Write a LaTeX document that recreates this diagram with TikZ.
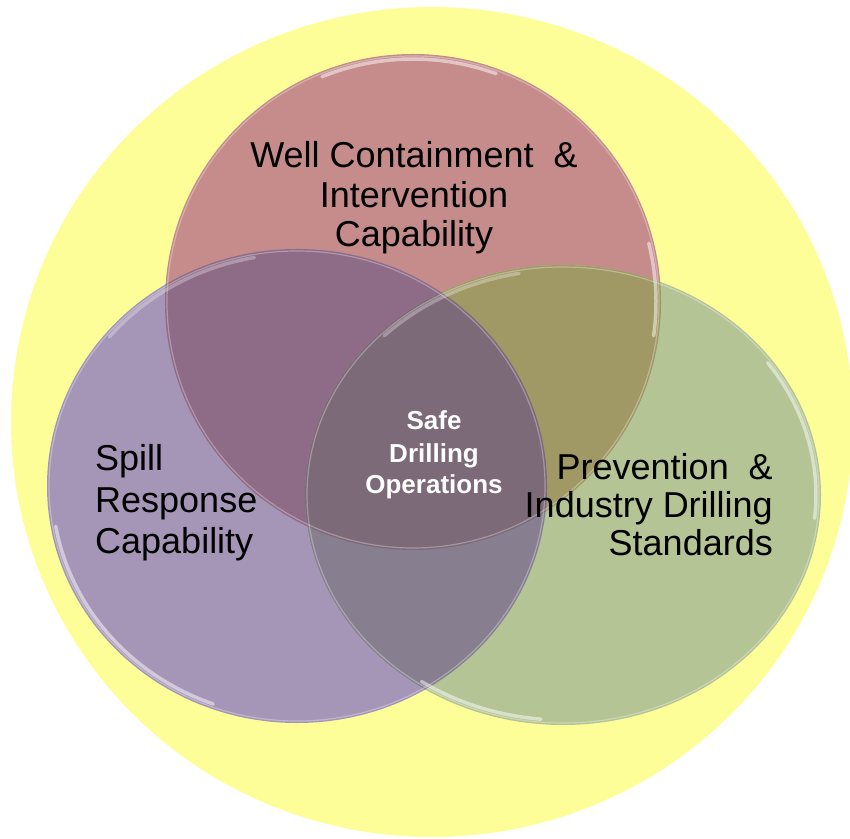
\documentclass[tikz,border=0pt]{standalone}
\usepackage{fontspec}
\setmainfont{Liberation Sans}
\definecolor{cY}{HTML}{FEFE99}
\definecolor{cR}{HTML}{C68C8C}
\definecolor{cP}{HTML}{A596B8}
\definecolor{cG}{HTML}{B5C495}
\definecolor{cRP}{HTML}{8E6B86}
\definecolor{cRG}{HTML}{A09966}
\definecolor{cPG}{HTML}{877F8F}
\definecolor{cRPG}{HTML}{7D6A78}
\begin{document}
\begin{tikzpicture}[x=1pt,y=1pt,
  lbl/.style={font=\fontsize{36}{40}\selectfont, text=black, inner sep=0pt},
  ctr/.style={font=\fontsize{26}{32}\selectfont\bfseries, text=white, inner sep=0pt},
  rim/.style={white, opacity=0.3, line width=1.2pt},
  glint/.style={white, line width=3.5pt, opacity=0.5, line cap=round}]
\useasboundingbox (0,0) rectangle (850,838);
\clip (0,0) rectangle (850,838);
% outer yellow disc
\fill[cY] (432,416) ellipse [x radius=421pt, y radius=415pt];
% three circles
\fill[cR] (413,536) circle [radius=248pt];
\fill[cP] (297,352) ellipse [x radius=250pt, y radius=237pt];
\fill[cG] (563,343) ellipse [x radius=258pt, y radius=230pt];
% overlaps
\begin{scope}
  \clip (413,536) circle [radius=248pt];
  \fill[cRP] (297,352) ellipse [x radius=250pt, y radius=237pt];
\end{scope}
\begin{scope}
  \clip (413,536) circle [radius=248pt];
  \fill[cRG] (563,343) ellipse [x radius=258pt, y radius=230pt];
\end{scope}
\begin{scope}
  \clip (297,352) ellipse [x radius=250pt, y radius=237pt];
  \fill[cPG] (563,343) ellipse [x radius=258pt, y radius=230pt];
\end{scope}
\begin{scope}
  \clip (413,536) circle [radius=248pt];
  \clip (297,352) ellipse [x radius=250pt, y radius=237pt];
  \fill[cRPG] (563,343) ellipse [x radius=258pt, y radius=230pt];
\end{scope}
% rims
\draw[rim] (413,536) circle [radius=246pt];
\draw[rim] (297,352) ellipse [x radius=248pt, y radius=235pt];
\draw[rim] (563,343) ellipse [x radius=256pt, y radius=228pt];
% glossy highlights
\draw[glint] ([shift={(70:243pt)}]413,536) arc [start angle=70, end angle=112, radius=243pt];
\draw[glint] ([shift={(-8:243pt)}]413,536) arc [start angle=-8, end angle=14, radius=243pt];
\draw[glint] ([shift={(190:245pt and 232pt)}]297,352) arc [start angle=190, end angle=250, x radius=245pt, y radius=232pt];
\draw[glint, opacity=0.3] ([shift={(100:245pt and 232pt)}]297,352) arc [start angle=100, end angle=140, x radius=245pt, y radius=232pt];
\draw[glint] ([shift={(-6:253pt and 225pt)}]563,343) arc [start angle=-6, end angle=36, x radius=253pt, y radius=225pt];
\draw[glint] ([shift={(236:253pt and 225pt)}]563,343) arc [start angle=236, end angle=265, x radius=253pt, y radius=225pt];
\draw[glint, opacity=0.3] ([shift={(100:253pt and 225pt)}]563,343) arc [start angle=100, end angle=135, x radius=253pt, y radius=225pt];
% labels
\node[lbl, anchor=base] (w1) at (414,670) {Well Containment\ \ \&};
\node[lbl, anchor=base] (w2) at (414,630) {Intervention};
\node[lbl, anchor=base] (w3) at (414,591) {Capability};
\node[lbl, anchor=base west] (s1) at (95,367) {Spill};
\node[lbl, anchor=base west] (s2) at (95,325) {Response};
\node[lbl, anchor=base west] (s3) at (95,284) {Capability};
\node[lbl, anchor=base east] (p1) at (773,358) {Prevention\ \ \&};
\node[lbl, anchor=base east] (p2) at (773,320) {Industry Drilling};
\node[lbl, anchor=base east] (p3) at (773,283) {Standards};
\node[ctr, anchor=base] (c1) at (434,408) {Safe};
\node[ctr, anchor=base] (c2) at (434,375) {Drilling};
\node[ctr, anchor=base] (c3) at (434,344) {Operations};
\end{tikzpicture}
\end{document}
